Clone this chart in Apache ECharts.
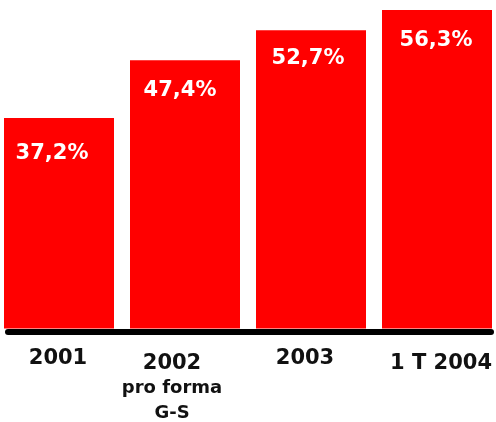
<!DOCTYPE html>
<html>
<head>
<meta charset="utf-8">
<script src="https://cdn.jsdelivr.net/npm/echarts@6/dist/echarts.min.js"></script>
<style>
  html, body { margin: 0; padding: 0; background: #fff; overflow: hidden; }
  #chart { width: 504px; height: 422px; margin-left: -4px; }
</style>
</head>
<body>
<div id="chart"></div>
<script>
// Share by period, in percent
const categories = ['2001', '2002', '2003', '1 T 2004'];
const subLines = ['', 'pro forma\nG-S', '', ''];
const values = [37.2, 47.4, 52.7, 56.3];

const fmtPct = v => v.toFixed(1).replace('.', ',') + '%';

// small nudges for the category captions: [top, right, left]
const labelShift = [[0, 2, 0], [5, 26, 0], [0, 12, 0], [5, 0, 8]];
// small nudges for the value labels inside the bars: [dx, dy]
const valueShift = [[-7, 5], [-5, 0], [-3, -2], [-1, 0]];

const chart = echarts.init(document.getElementById('chart'), null, { renderer: 'canvas' });

chart.setOption({
  animation: false,
  backgroundColor: '#ffffff',
  grid: [
    { left: 0, right: 0, top: 10, bottom: 93 },
    { left: 12, right: 9, top: 10, bottom: 90 }
  ],
  xAxis: [
    {
      type: 'category',
      gridIndex: 0,
      data: categories.map((c, i) => ({
        value: c,
        textStyle: { padding: [labelShift[i][0], labelShift[i][1], 0, labelShift[i][2]] }
      })),
      axisLine: { show: false },
      axisTick: { show: false },
      axisLabel: {
        margin: 18,
        interval: 0,
        formatter: (v, i) => {
          let s = '{a|' + v + '}';
          if (subLines[i]) {
            s += '\n' + subLines[i].split('\n').map(t => '{b|' + t + '}').join('\n');
          }
          return s;
        },
        rich: {
          a: { fontFamily: 'DejaVu Sans', fontWeight: 'bold', fontSize: 21, lineHeight: 24, color: '#111' },
          b: { fontFamily: 'DejaVu Sans', fontWeight: 'bold', fontSize: 18, lineHeight: 25, color: '#111' }
        }
      }
    },
    {
      type: 'category',
      gridIndex: 1,
      data: categories,
      axisLine: { show: true, lineStyle: { color: '#000', width: 6 } },
      axisTick: { show: false },
      axisLabel: { show: false }
    }
  ],
  yAxis: [
    { type: 'value', gridIndex: 0, min: 0, max: 56.3, show: false },
    { type: 'value', gridIndex: 1, min: 0, max: 10, show: false }
  ],
  series: [
    {
      type: 'bar',
      xAxisIndex: 0,
      yAxisIndex: 0,
      data: values.map((v, i) => ({ value: v, label: { offset: valueShift[i] } })),
      barWidth: 110,
      z: 3,
      itemStyle: { color: '#ff0000' },
      label: {
        show: true,
        position: 'insideTop',
        distance: 20,
        formatter: p => fmtPct(p.value),
        color: '#ffffff',
        fontFamily: 'DejaVu Sans',
        fontWeight: 'bold',
        fontSize: 21
      }
    }
  ]
});
</script>
</body>
</html>
